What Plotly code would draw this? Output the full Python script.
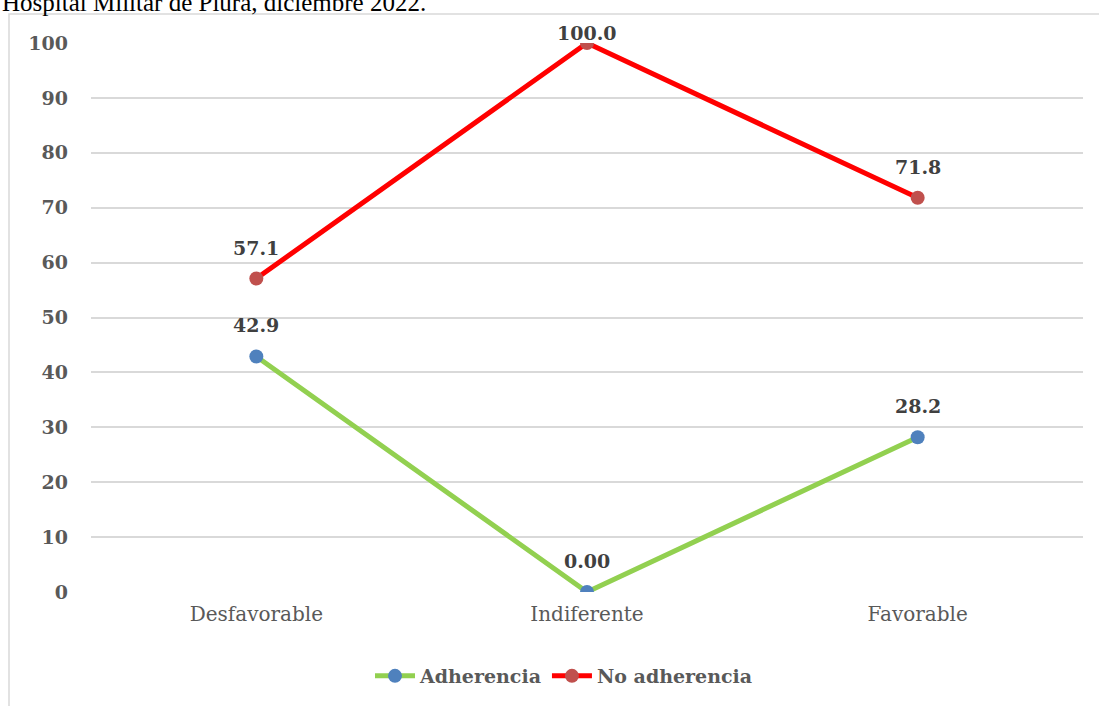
import plotly.graph_objects as go

# Categories and series values (%)
categorias = ["Desfavorable", "Indiferente", "Favorable"]
adherencia = [42.9, 0.0, 28.2]
no_adherencia = [57.1, 100.0, 71.8]
etiquetas_adherencia = ["42.9", "0.00", "28.2"]
etiquetas_no_adherencia = ["57.1", "100.0", "71.8"]
y_ticks = list(range(0, 101, 10))

titulo = "Hospital Militar de Piura, diciembre 2022."

W, H = 1099, 706
L, R, T, B = 91, 16, 43, 113
pw, ph = W - L - R, H - T - B

serif = "DejaVu Serif"
gris = "#595959"
oscuro = "#404040"

fig = go.Figure()
fig.add_trace(go.Scatter(
    x=categorias, y=adherencia, name="Adherencia", mode="lines+markers",
    line=dict(color="#92d050", width=5),
    marker=dict(color="#4f81bd", size=14),
))
fig.add_trace(go.Scatter(
    x=categorias, y=no_adherencia, name="No adherencia", mode="lines+markers",
    line=dict(color="#ff0000", width=5),
    marker=dict(color="#c0504d", size=14),
))

# data labels above each point
annotations = []
for serie, textos in ((adherencia, etiquetas_adherencia), (no_adherencia, etiquetas_no_adherencia)):
    for cat, val, txt in zip(categorias, serie, textos):
        annotations.append(dict(
            x=cat, y=val, text=txt, showarrow=False, xref="x", yref="y",
            yshift=10 if val >= 100 else 31,
            font=dict(family=serif, size=19, color=oscuro, weight="bold"),
        ))

# heading line above the chart frame (partly cut off at the page top)
annotations.append(dict(
    x=-L / pw, y=1 + (T - 2) / ph, xref="paper", yref="paper",
    xanchor="left", yanchor="middle", showarrow=False, text=titulo,
    font=dict(family="Liberation Serif", size=25, color="black"),
))

fig.update_layout(
    width=W, height=H,
    margin=dict(l=L, r=R, t=T, b=B, pad=0),
    paper_bgcolor="white", plot_bgcolor="white",
    showlegend=True,
    legend=dict(
        orientation="h", x=(564 - L) / pw, xanchor="center",
        y=-(676 - (H - B)) / ph, yanchor="middle",
        font=dict(family=serif, size=19, color=gris, weight="bold"),
        itemwidth=40, tracegroupgap=0,
    ),
    annotations=annotations,
    shapes=[dict(
        type="rect", xref="paper", yref="paper",
        x0=-(L - 9) / pw, x1=1.2, y0=-0.5, y1=1 + (T - 14) / ph,
        line=dict(color="#d9d9d9", width=1.5), fillcolor="rgba(0,0,0,0)", layer="below",
    )],
)

fig.update_xaxes(
    type="category", range=[-0.5, 2.5], showgrid=False, zeroline=False,
    showline=False, ticks="", ticklabelstandoff=8,
    tickfont=dict(family=serif, size=20, color=gris),
)
fig.update_yaxes(
    range=[0, 100], tickvals=y_ticks, showgrid=True, gridcolor="#d9d9d9",
    gridwidth=1.5, zeroline=False, showline=False, ticks="",
    ticklabelstandoff=22,
    tickfont=dict(family=serif, size=19, color=gris, weight="bold"),
)

fig.write_html("out.html")
